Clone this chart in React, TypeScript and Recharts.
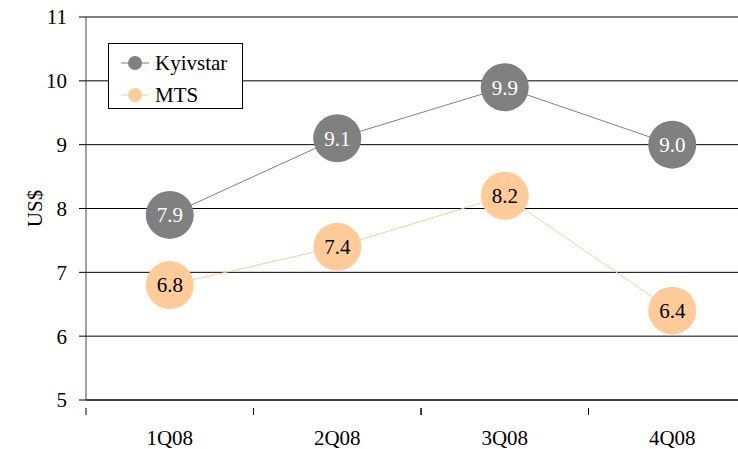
import React from "react"
import { CartesianGrid, Line, LineChart, XAxis, YAxis } from "recharts"

const quarters = ["1Q08", "2Q08", "3Q08", "4Q08"]
const kyivstar = [7.9, 9.1, 9.9, 9.0]
const mts = [6.8, 7.4, 8.2, 6.4]
const yTicks = [5, 6, 7, 8, 9, 10, 11]

const data = quarters.map((q, i) => ({ q, kyivstar: kyivstar[i], mts: mts[i] }))

const FONT = "'Liberation Serif', 'Times New Roman', Times, serif"
const GREY = "#808080"
const PEACH = "#FFCC99"

const W = 757
const H = 449
const LEFT = 86
const BAND = (W - LEFT - 1) / quarters.length

function makeDot(fill: string, textColor: string) {
  return (props: any) => {
    const { cx, cy, value, index } = props
    return (
      <g key={index}>
        <circle cx={cx} cy={cy} r={24} fill={fill} />
        <text x={cx} y={cy} dy="0.35em" textAnchor="middle" fontFamily={FONT} fontSize={21} fill={textColor}>
          {Number(value).toFixed(1)}
        </text>
      </g>
    )
  }
}

function XTick(props: any) {
  const { x, y, payload } = props
  const left = x - BAND / 2
  return (
    <g>
      <line x1={left} x2={left} y1={y} y2={y + 7} stroke="#000" />
      <line x1={left + BAND} x2={left + BAND} y1={y} y2={y + 7} stroke="#000" />
      <text x={x} y={y + 37} textAnchor="middle" fontFamily={FONT} fontSize={21} fill="#000">
        {payload.value}
      </text>
    </g>
  )
}

function YTick(props: any) {
  const { x, y, payload } = props
  return (
    <text x={x} y={y} dy="0.35em" textAnchor="end" fontFamily={FONT} fontSize={21} fill="#000">
      {payload.value}
    </text>
  )
}

function LegendBox() {
  const items = [
    { name: "Kyivstar", color: GREY },
    { name: "MTS", color: PEACH },
  ]
  return (
    <div style={{ position: "absolute", left: 108, top: 43, border: "1px solid #000", background: "#fff", width: 135, height: 66, boxSizing: "border-box", paddingTop: 3 }}>
      {items.map((it) => (
        <div key={it.name} style={{ display: "flex", alignItems: "center", height: 32, fontFamily: FONT, fontSize: 21 }}>
          <svg width={36} height={20} style={{ marginLeft: 10 }}>
            <line x1={2} x2={30} y1={10} y2={10} stroke={it.color} />
            <circle cx={16} cy={10} r={7} fill={it.color} />
          </svg>
          <span>{it.name}</span>
        </div>
      ))}
    </div>
  )
}

export default function App() {
  return (
    <div style={{ position: "absolute", left: 0, top: 0, width: 738, height: 449, overflow: "hidden", background: "#fff", fontFamily: FONT }}>
      <LineChart width={W} height={H} data={data} margin={{ top: 17, right: 1, bottom: 0, left: 0 }} style={{ fontFamily: FONT }}>
        <CartesianGrid vertical={false} stroke="#000" />
        <XAxis
          dataKey="q"
          height={49}
          padding={{ left: BAND / 2, right: BAND / 2 }}
          tickLine={false}
          axisLine={{ stroke: "#000" }}
          tick={<XTick />}
          interval={0}
        />
        <YAxis
          width={LEFT}
          domain={[5, 11]}
          ticks={yTicks}
          tickSize={7}
          tickMargin={12}
          axisLine={{ stroke: "#444" }}
          tickLine={{ stroke: "#000" }}
          tick={<YTick />}
          label={{ value: "US$", angle: -90, position: "insideLeft", offset: 35, style: { fontSize: 21, fontFamily: FONT, fill: "#000", textAnchor: "middle" } }}
        />
        <Line dataKey="kyivstar" name="Kyivstar" stroke={GREY} strokeWidth={1} dot={makeDot(GREY, "#fff")} isAnimationActive={false} />
        <Line dataKey="mts" name="MTS" stroke={PEACH} strokeWidth={1} dot={makeDot(PEACH, "#000")} isAnimationActive={false} />
      </LineChart>
      <LegendBox />
    </div>
  )
}
